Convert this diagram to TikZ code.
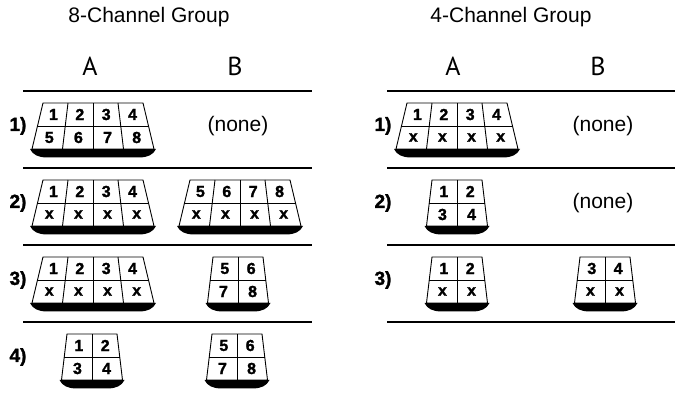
\documentclass[tikz,border=0pt]{standalone}
\usepackage{fontspec}
\setmainfont{Liberation Sans}
\newfontfamily\headfont{PT Sans}
\newfontfamily\cellfont[BoldFeatures={FakeBold=1.5}]{Liberation Sans}
\usepackage{tikz}
\usetikzlibrary{positioning}

% one connector block: name, centre, columns, top labels, bottom labels
\newcommand{\pad}[5]{%
  \begin{scope}[shift={#2}]
    \pgfmathsetmacro{\tw}{#3*12.5}
    \pgfmathsetmacro{\mw}{#3*13.875}
    \pgfmathsetmacro{\bw}{#3*15.25}
    \pgfmathtruncatemacro{\nm}{#3-1}
    \fill (-\bw-2,-23) -- (\bw+2,-23) .. controls (\bw-1,-29) and (\bw-6,-31) .. (\bw-14,-31.5)
      -- (-\bw+14,-31.5) .. controls (-\bw+6,-31) and (-\bw+1,-29) .. (-\bw-2,-23) -- cycle;
    \draw[padline, fill=white] (-\tw,23) -- (\tw,23) -- (\bw,-23) -- (-\bw,-23) -- cycle;
    \draw[padline] (-\mw,0) -- (\mw,0);
    \foreach \k in {1,...,\nm}
      \draw[padline] (-\tw+\k*25,23) -- (-\bw+\k*30.5,-23);
    \foreach \lab [count=\k from 0] in {#4}
      \node[cell] (#1-t\k) at ({(-\tw-\mw)/2+(\k+0.5)*26.375},11.5) {\lab};
    \foreach \lab [count=\k from 0] in {#5}
      \node[cell] (#1-b\k) at ({(-\mw-\bw)/2+(\k+0.5)*29.125},-11.5) {\lab};
  \end{scope}}

\begin{document}
\begin{tikzpicture}[
		x=1pt, y=1pt,
		padline/.style={line width=0.9pt, line join=miter},
		cell/.style={font=\cellfont\fontsize{16}{16}\selectfont\bfseries, inner sep=0pt},
		rowlab/.style={font=\cellfont\fontsize{19}{19}\selectfont\bfseries, inner sep=0pt},
		title/.style={font=\fontsize{21}{21}\selectfont},
		colhead/.style={font=\headfont\fontsize{26}{26}\selectfont},
		nonelab/.style={font=\fontsize{21}{21}\selectfont},
		rule/.style={line width=1.3pt}
		]
		\useasboundingbox (0,0) rectangle (675,396);
		
		% Headings
		\node[title] (grp8) at (149,379) {8-Channel Group};
		\node[title] (grp4) at (511,379) {4-Channel Group};
		\node[colhead] (a8) at (90,330) {A};
		\node[colhead] (b8) at (235,330) {B};
		\node[colhead] (a4) at (453,330) {A};
		\node[colhead] (b4) at (598,330) {B};
		
		% Rules
		\foreach \y in {305,228,151,74}
			\draw[rule] (23,\y) -- (312,\y);
		\foreach \y in {305,228,151,74}
			\draw[rule] (387,\y) -- (675,\y);
		
		% Row labels
		\foreach \r/\y in {1/270,2/193,3/116,4/39}
			\node[rowlab] (r8-\r) at (18,\y) {\r)};
		\foreach \r/\y in {1/270,2/193,3/116}
			\node[rowlab] (r4-\r) at (383,\y) {\r)};
		
		% 8-channel group
		\pad{a81}{(93,270)}{4}{1,2,3,4}{5,6,7,8}
		\node[nonelab] (b81) at (238,270) {(none)};
		\pad{a82}{(93,193)}{4}{1,2,3,4}{x,x,x,x}
		\pad{b82}{(240,193)}{4}{5,6,7,8}{x,x,x,x}
		\pad{a83}{(93,116)}{4}{1,2,3,4}{x,x,x,x}
		\pad{b83}{(238,116)}{2}{5,6}{7,8}
		\pad{a84}{(92,39)}{2}{1,2}{3,4}
		\pad{b84}{(237,39)}{2}{5,6}{7,8}
		
		% 4-channel group
		\pad{a41}{(457,270)}{4}{1,2,3,4}{x,x,x,x}
		\node[nonelab] (b41) at (603,270) {(none)};
		\pad{a42}{(457,193)}{2}{1,2}{3,4}
		\node[nonelab] (b42) at (603,193) {(none)};
		\pad{a43}{(457,116)}{2}{1,2}{x,x}
		\pad{b43}{(605,116)}{2}{3,4}{x,x}
		
	\end{tikzpicture}
\end{document}
